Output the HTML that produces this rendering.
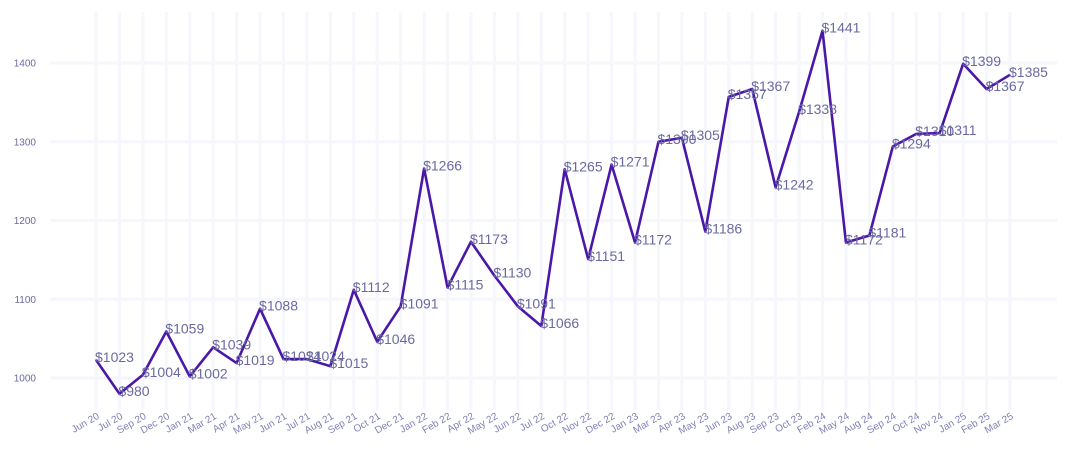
<!DOCTYPE html>
<html><head><meta charset="utf-8"><style>
html,body{margin:0;padding:0;background:#fff;}
svg{display:block;font-family:"Liberation Sans",sans-serif;}
</style></head><body>
<svg id="chart" width="1070" height="465" viewBox="0 0 1070 465" xmlns="http://www.w3.org/2000/svg">
<g id="grid"></g>
<g id="yaxis"></g>
<g id="xaxis"></g>
<g id="series"></g>
<g id="labels"></g>
</svg>
<script>
const categories = ["Jun 20","Jul 20","Sep 20","Dec 20","Jan 21","Mar 21","Apr 21","May 21","Jun 21","Jul 21","Aug 21","Sep 21","Oct 21","Dec 21","Jan 22","Feb 22","Apr 22","May 22","Jun 22","Jul 22","Oct 22","Nov 22","Dec 22","Jan 23","Mar 23","Apr 23","May 23","Jun 23","Aug 23","Sep 23","Oct 23","Feb 24","May 24","Aug 24","Sep 24","Oct 24","Nov 24","Jan 25","Feb 25","Mar 25"];
const prices = [1023,980,1004,1059,1002,1039,1019,1088,1024,1024,1015,1112,1046,1091,1266,1115,1173,1130,1091,1066,1265,1151,1271,1172,1300,1305,1186,1357,1367,1242,1338,1441,1172,1181,1294,1310,1311,1399,1367,1385];
const yTicks = [1000,1100,1200,1300,1400];

const NS="http://www.w3.org/2000/svg";
const x0=96, x1=1010, plotTop=12, plotBottom=410, gridLeft=50, gridRight=1057;
function xScale(i){return x0+(x1-x0)*i/(categories.length-1);}
function yScale(v){return 378-(v-1000)*0.7875;}
function mk(tag,attrs,parent){const e=document.createElementNS(NS,tag);for(const k in attrs)e.setAttribute(k,attrs[k]);parent.appendChild(e);return e;}

const grid=document.getElementById('grid'),yaxis=document.getElementById('yaxis'),xaxis=document.getElementById('xaxis'),series=document.getElementById('series'),labels=document.getElementById('labels');

categories.forEach((c,i)=>{
  const g=mk('line',{x1:xScale(i),x2:xScale(i),y1:plotTop,y2:plotBottom,stroke:'#f6f6fd','stroke-width':3},grid);
  
  
  const t=mk('text',{x:xScale(i)+4,y:418,'text-anchor':'end','font-size':10,fill:'#8080b8',transform:`rotate(-30 ${xScale(i)+4} 418)`},xaxis);
  t.textContent=c;
  
  
});
yTicks.forEach(v=>{
  const l=mk('line',{x1:gridLeft,x2:gridRight,y1:yScale(v),y2:yScale(v),stroke:'#f6f6fd','stroke-width':3},grid);
  
  
  const t=mk('text',{x:36,y:yScale(v)+3.5,'text-anchor':'end','font-size':10,fill:'#6a6aa0'},yaxis);
  t.textContent=v;
  
  
});
const pts=prices.map((v,i)=>xScale(i)+','+yScale(v)).join(' ');
const line=mk('polyline',{points:pts,fill:'none',stroke:'#4a17a8','stroke-width':2.6,'stroke-linejoin':'round'},series);


prices.forEach((v,i)=>{
  const t=mk('text',{x:xScale(i)-1,y:yScale(v)+2,'font-size':14,fill:'#6a6aa0'},labels);
  t.textContent='$'+v;
  
  
});
</script>
</body></html>
